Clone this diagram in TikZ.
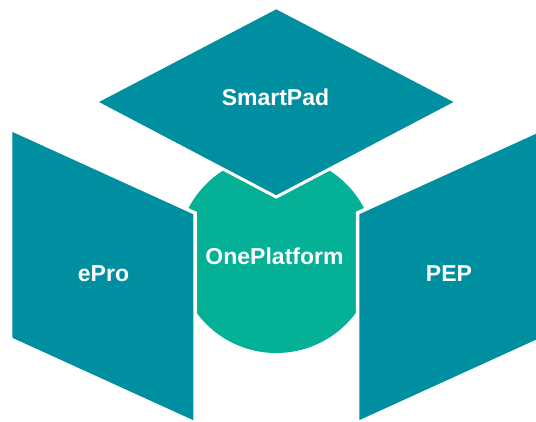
\documentclass[tikz,border=0pt]{standalone}
\usepackage{fontspec}
\setmainfont{Liberation Sans}
\definecolor{tealblock}{RGB}{0,143,160}
\definecolor{platgreen}{RGB}{4,176,150}
\begin{document}
\begin{tikzpicture}[x=1bp,y=-1bp,
  block/.style={fill=tealblock,draw=white,line width=3.5bp,line join=miter},
  hub/.style={fill=platgreen},
  label/.style={text=white,font=\bfseries\fontsize{23bp}{28bp}\selectfont,anchor=base,inner sep=0pt}]
\useasboundingbox (0,0) rectangle (536,421);
\clip (0,0) rectangle (536,421);
\fill[white] (0,0) rectangle (536,421);
% central platform disc
\fill[hub] (276.25,254) circle[radius=99];
% top rhombus
\draw[block,line width=3bp] (276.25,7.5) -- (457,102) -- (276.25,197) -- (95.5,102) -- cycle;
% side panels
\draw[block] (10.5,129) -- (195,213) -- (195,423) -- (10.5,339) -- cycle;
\draw[block] (542,129) -- (357.5,213) -- (357.5,423) -- (542,339) -- cycle;
% labels
\node[label] (smartpad) at (275.5,105) {SmartPad};
\node[label] (oneplatform) at (274.5,264.5) {OnePlatform};
\node[label] (epro) at (103.5,281.5) {ePro};
\node[label] (pep) at (449,281.5) {PEP};
\end{tikzpicture}
\end{document}
